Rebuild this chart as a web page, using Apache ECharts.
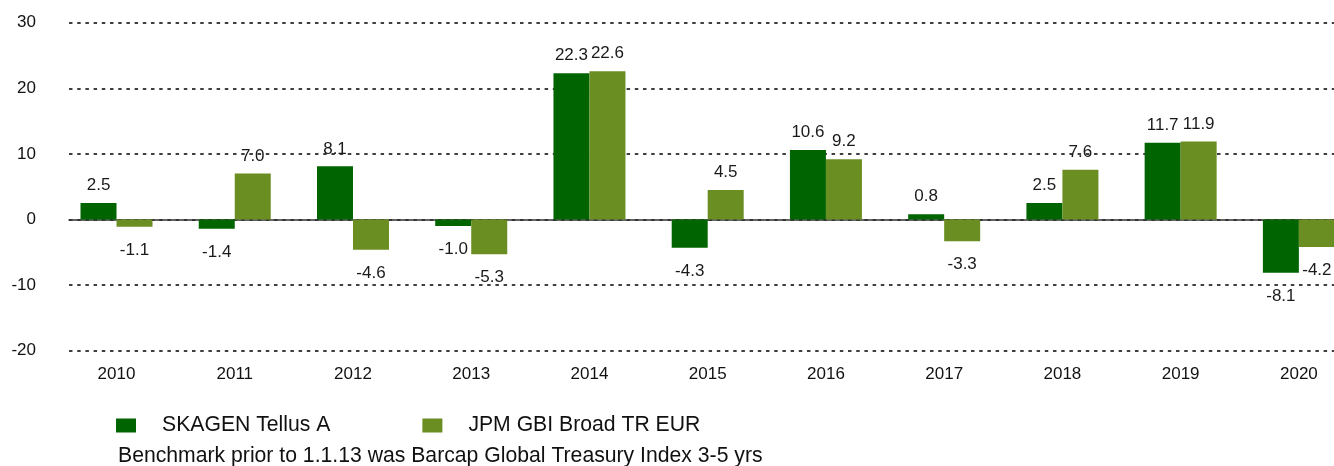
<!DOCTYPE html>
<html>
<head>
<meta charset="utf-8">
<script src="https://cdn.jsdelivr.net/npm/echarts@6/dist/echarts.min.js"></script>
<style>
  html, body { margin: 0; padding: 0; background: #fff; overflow: hidden; }
  /* chart is a bit wider than the window: last bar pair is cut by the edge */
  #chart { width: 1358px; height: 466px; }
</style>
</head>
<body>
<div id="chart"></div>
<script>
// data
const years = ["2010", "2011", "2012", "2013", "2014", "2015", "2016", "2017", "2018", "2019", "2020"];
const tellus = [2.5, -1.4, 8.1, -1.0, 22.3, -4.3, 10.6, 0.8, 2.5, 11.7, -8.1];
const jpm = [-1.1, 7.0, -4.6, -5.3, 22.6, 4.5, 9.2, -3.3, 7.6, 11.9, -4.2];
const yTicks = [-20, -10, 0, 10, 20, 30];

const FONT = "Liberation Sans, Arial, sans-serif";

// labels above positive bars, below negative ones
function withLabels(arr) {
  return arr.map(v => ({
    value: v,
    label: {
      position: v < 0 ? "bottom" : "top",
      distance: v < 0 ? 15 : 9,
    },
  }));
}

const chart = echarts.init(document.getElementById("chart"));
const option = {
  animation: false,
  backgroundColor: "#fff",
  textStyle: { fontFamily: FONT },
  title: {
    text: "Benchmark prior to 1.1.13 was Barcap Global Treasury Index 3-5 yrs",
    left: 118,
    top: 446,
    padding: 0,
    textStyle: { fontSize: 21.2, fontWeight: "normal", color: "#111", fontFamily: FONT },
  },
  legend: {
    left: 116,
    top: 415,
    padding: 0,
    icon: "rect",
    itemWidth: 20,
    itemHeight: 14,
    itemGap: 92,
    textStyle: { fontSize: 21.2, color: "#111", fontFamily: FONT, padding: [0, 0, 0, 21] },
    data: ["SKAGEN Tellus A", "JPM GBI Broad TR EUR"],
  },
  grid: [
    { left: 57.4, right: 0, top: 22.7, height: 328 },
    // second grid only carries the dotted gridlines, zero line and y labels
    { left: 69, right: 24, top: 22.7, height: 328 },
  ],
  xAxis: [
    {
      type: "category",
      gridIndex: 0,
      data: years,
      axisLine: { show: false, onZero: false },
      axisTick: { show: false },
      axisLabel: { fontSize: 17, color: "#111", margin: 15, fontFamily: FONT },
    },
    {
      type: "value",
      gridIndex: 1,
      min: 0,
      max: 1,
      axisLine: { show: true, onZero: true, lineStyle: { color: "#333", width: 1.5 } },
      axisTick: { show: false },
      axisLabel: { show: false },
      splitLine: { show: false },
    },
  ],
  yAxis: [
    { type: "value", gridIndex: 0, min: -20, max: 30, interval: 10, show: false },
    {
      type: "value",
      gridIndex: 1,
      min: yTicks[0],
      max: yTicks[yTicks.length - 1],
      interval: 10,
      axisLine: { show: false },
      axisTick: { show: false },
      axisLabel: { fontSize: 17, color: "#111", margin: 33, fontFamily: FONT },
      splitLine: { lineStyle: { color: "#000", width: 1.6, type: [3.5, 4.7] } },
    },
  ],
  series: [
    {
      name: "SKAGEN Tellus A",
      type: "bar",
      xAxisIndex: 0,
      yAxisIndex: 0,
      barWidth: 36,
      barGap: "0%",
      itemStyle: { color: "#006400" },
      label: {
        show: true,
        fontSize: 17,
        color: "#1a1a1a",
        fontFamily: FONT,
        formatter: p => p.value.toFixed(1),
      },
      data: withLabels(tellus),
    },
    {
      name: "JPM GBI Broad TR EUR",
      type: "bar",
      xAxisIndex: 0,
      yAxisIndex: 0,
      barWidth: 36,
      barGap: "0%",
      itemStyle: { color: "#6B8E23" },
      label: {
        show: true,
        fontSize: 17,
        color: "#1a1a1a",
        fontFamily: FONT,
        formatter: p => p.value.toFixed(1),
      },
      data: withLabels(jpm),
    },
  ],
};
chart.setOption(option);
</script>
</body>
</html>
